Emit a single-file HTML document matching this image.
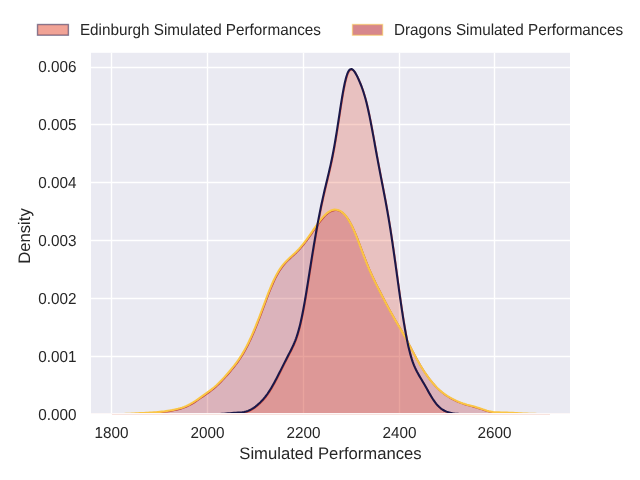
<!DOCTYPE html>
<html><head><meta charset="utf-8"><style>
html,body{margin:0;padding:0;background:#fff;}
svg{display:block;will-change:transform;}
text{font-family:"Liberation Sans",sans-serif;fill:#262626;text-rendering:geometricPrecision;}
</style></head><body>
<svg width="640" height="480" viewBox="0 0 640 480">
<defs><clipPath id="ax"><rect x="91" y="52.8" width="479" height="361.2"/></clipPath></defs>
<rect x="0" y="0" width="640" height="480" fill="#ffffff"/>
<rect x="91" y="52.8" width="479" height="361.2" fill="#eaeaf2"/>
<g stroke="#ffffff" stroke-width="1.39" fill="none"><line x1="111.5" y1="52.8" x2="111.5" y2="414" /><line x1="207.5" y1="52.8" x2="207.5" y2="414" /><line x1="303.5" y1="52.8" x2="303.5" y2="414" /><line x1="399.5" y1="52.8" x2="399.5" y2="414" /><line x1="494.5" y1="52.8" x2="494.5" y2="414" /><line x1="91" y1="67.5" x2="570" y2="67.5" /><line x1="91" y1="124.5" x2="570" y2="124.5" /><line x1="91" y1="182.5" x2="570" y2="182.5" /><line x1="91" y1="240.5" x2="570" y2="240.5" /><line x1="91" y1="298.5" x2="570" y2="298.5" /><line x1="91" y1="356.5" x2="570" y2="356.5" /></g>
<g clip-path="url(#ax)">
<path d="M112.00,414.3 L112.00,414.17 114.00,414.15 116.00,414.13 118.00,414.10 120.00,414.06 122.00,414.00 124.00,413.93 126.00,413.86 128.00,413.77 130.00,413.67 132.00,413.57 134.00,413.46 136.00,413.36 138.00,413.25 140.00,413.15 142.00,413.05 144.00,412.95 146.00,412.84 148.00,412.74 150.00,412.62 152.00,412.50 154.00,412.36 156.00,412.21 158.00,412.04 160.00,411.86 162.00,411.65 164.00,411.41 166.00,411.14 168.00,410.84 170.00,410.50 172.00,410.14 174.00,409.73 176.00,409.29 178.00,408.81 180.00,408.26 182.00,407.65 184.00,406.95 186.00,406.15 188.00,405.24 190.00,404.21 191.75,403.21 193.50,402.14 195.25,401.00 197.00,399.82 198.75,398.60 200.50,397.37 202.25,396.14 204.00,394.90 205.75,393.66 207.50,392.41 209.25,391.13 211.00,389.81 212.75,388.43 214.50,386.97 216.25,385.43 217.75,384.03 219.25,382.57 220.75,381.05 222.25,379.47 223.75,377.85 225.25,376.19 226.75,374.50 228.25,372.78 229.75,371.03 231.25,369.24 232.75,367.41 234.00,365.85 235.25,364.24 236.50,362.57 237.75,360.85 239.00,359.05 240.25,357.18 241.50,355.22 242.75,353.16 244.00,351.02 245.00,349.23 246.00,347.37 247.00,345.45 248.00,343.47 249.00,341.42 250.00,339.31 251.00,337.13 252.00,334.90 253.00,332.60 254.00,330.25 255.00,327.85 256.00,325.39 256.75,323.51 257.50,321.61 258.25,319.69 259.00,317.75 259.75,315.78 260.50,313.80 261.25,311.81 262.00,309.81 262.75,307.80 263.50,305.79 264.25,303.78 265.00,301.77 265.75,299.77 266.50,297.79 267.25,295.83 268.00,293.89 268.75,291.97 269.50,290.09 270.50,287.64 271.50,285.26 272.50,282.96 273.50,280.75 274.50,278.64 275.50,276.63 276.50,274.72 277.50,272.92 278.75,270.81 280.00,268.87 281.25,267.07 282.50,265.42 284.00,263.60 285.50,261.94 287.00,260.40 288.50,258.94 290.00,257.55 291.50,256.18 293.00,254.80 294.50,253.40 296.00,251.96 297.50,250.44 299.00,248.86 300.50,247.19 302.00,245.43 303.50,243.58 304.75,241.99 306.00,240.34 307.25,238.64 308.50,236.90 309.75,235.13 311.00,233.33 312.25,231.52 313.50,229.71 314.75,227.90 316.00,226.11 317.25,224.35 318.50,222.63 319.75,220.97 321.00,219.38 322.50,217.58 324.00,215.92 325.50,214.42 327.00,213.09 328.75,211.80 330.50,210.79 332.50,210.01 334.50,209.64 336.50,209.70 338.50,210.20 340.50,211.16 342.25,212.37 343.75,213.71 345.25,215.33 346.50,216.91 347.75,218.69 349.00,220.68 350.00,222.42 351.00,224.29 352.00,226.29 353.00,228.41 354.00,230.64 355.00,232.98 356.00,235.41 356.75,237.28 357.50,239.19 358.25,241.13 359.00,243.10 359.75,245.09 360.50,247.09 361.25,249.09 362.00,251.10 362.75,253.09 363.50,255.08 364.25,257.04 365.00,258.98 365.75,260.90 366.50,262.78 367.50,265.25 368.50,267.65 369.50,269.99 370.50,272.27 371.50,274.49 372.50,276.66 373.50,278.78 374.50,280.85 375.50,282.90 376.50,284.91 377.50,286.90 378.50,288.88 379.50,290.85 380.50,292.80 381.50,294.75 382.50,296.70 383.50,298.63 384.50,300.56 385.50,302.48 386.50,304.38 387.50,306.27 388.50,308.13 389.50,309.97 390.50,311.79 391.50,313.59 392.50,315.35 393.50,317.10 394.75,319.25 396.00,321.38 397.25,323.50 398.50,325.61 399.75,327.73 401.00,329.87 402.00,331.61 403.00,333.36 404.00,335.14 405.00,336.95 406.00,338.78 407.00,340.64 408.00,342.52 409.00,344.42 410.00,346.33 411.00,348.25 412.00,350.16 413.00,352.08 414.00,353.97 415.00,355.85 416.00,357.71 417.00,359.53 418.00,361.33 419.00,363.08 420.25,365.21 421.50,367.28 422.75,369.29 424.00,371.22 425.25,373.09 426.50,374.89 427.75,376.64 429.00,378.32 430.25,379.94 431.50,381.50 433.00,383.30 434.50,385.01 436.00,386.62 437.50,388.15 439.00,389.58 440.50,390.92 442.25,392.37 444.00,393.70 445.75,394.93 447.50,396.06 449.25,397.12 451.00,398.11 453.00,399.17 455.00,400.17 457.00,401.10 459.00,401.97 461.00,402.76 463.00,403.47 465.00,404.11 467.00,404.69 469.00,405.22 471.00,405.74 473.00,406.26 475.00,406.81 477.00,407.41 479.00,408.04 481.00,408.71 483.00,409.39 485.00,410.05 487.00,410.65 489.00,411.18 491.00,411.61 493.00,411.94 495.00,412.17 497.00,412.32 499.00,412.40 501.00,412.45 503.00,412.49 505.00,412.53 507.00,412.59 509.00,412.68 511.00,412.78 513.00,412.90 515.00,413.03 517.00,413.15 519.00,413.27 521.00,413.37 523.00,413.46 525.00,413.54 527.00,413.61 529.00,413.67 531.00,413.73 533.00,413.80 535.00,413.86 537.00,413.92 539.00,413.97 541.00,414.02 543.00,414.07 545.00,414.10 547.00,414.13 549.00,414.15 550.00,414.16 L550.00,414.3 Z" fill="#af0f19" fill-opacity="0.25" stroke="none"/>
<path d="M190.00,414.3 L190.00,414.20 192.00,414.20 194.00,414.20 196.00,414.20 198.00,414.20 200.00,414.20 202.00,414.20 204.00,414.20 206.00,414.20 208.00,414.19 210.00,414.19 212.00,414.17 214.00,414.15 216.00,414.11 218.00,414.06 220.00,413.98 222.00,413.87 224.00,413.73 226.00,413.56 228.00,413.38 230.00,413.18 232.00,413.00 234.00,412.83 236.00,412.68 238.00,412.56 240.00,412.42 242.00,412.24 244.00,411.97 246.00,411.54 248.00,410.91 250.00,410.05 252.00,408.96 253.75,407.83 255.50,406.54 257.25,405.12 259.00,403.58 260.50,402.14 262.00,400.60 263.50,398.94 265.00,397.13 266.25,395.51 267.50,393.78 268.75,391.93 270.00,389.97 271.25,387.92 272.50,385.77 273.50,384.00 274.50,382.18 275.50,380.32 276.50,378.42 277.50,376.50 278.50,374.55 279.50,372.59 280.50,370.60 281.50,368.61 282.50,366.61 283.50,364.62 284.50,362.63 285.50,360.66 286.50,358.70 287.50,356.76 288.50,354.83 289.50,352.89 290.50,350.95 291.50,348.96 292.50,346.90 293.50,344.73 294.50,342.40 295.25,340.54 296.00,338.54 296.75,336.39 297.50,334.07 298.25,331.57 299.00,328.87 299.75,325.97 300.25,323.92 300.75,321.78 301.25,319.54 301.75,317.21 302.25,314.78 302.75,312.27 303.25,309.67 303.75,306.99 304.25,304.23 304.75,301.40 305.25,298.51 305.75,295.56 306.25,292.55 306.75,289.50 307.25,286.41 307.75,283.30 308.25,280.15 308.75,277.00 309.25,273.83 309.75,270.65 310.25,267.49 310.75,264.32 311.25,261.18 311.75,258.05 312.25,254.94 312.75,251.86 313.25,248.81 313.75,245.79 314.25,242.81 314.75,239.86 315.25,236.95 315.75,234.08 316.25,231.25 316.75,228.47 317.25,225.72 317.75,223.02 318.25,220.36 318.75,217.75 319.25,215.18 319.75,212.65 320.25,210.17 320.75,207.73 321.25,205.33 321.75,202.97 322.25,200.66 322.75,198.38 323.25,196.14 323.75,193.93 324.25,191.76 324.75,189.61 325.25,187.49 325.75,185.39 326.25,183.31 326.75,181.23 327.25,179.15 327.75,177.08 328.25,174.99 328.75,172.88 329.25,170.75 329.75,168.58 330.25,166.37 330.75,164.11 331.25,161.80 331.75,159.43 332.25,156.98 332.75,154.47 333.25,151.87 333.75,149.20 334.25,146.45 334.75,143.62 335.25,140.71 335.75,137.72 336.25,134.66 336.75,131.54 337.25,128.37 337.75,125.14 338.25,121.89 338.75,118.61 339.25,115.32 339.75,112.04 340.25,108.78 340.75,105.56 341.25,102.40 341.75,99.30 342.25,96.29 342.75,93.39 343.25,90.60 343.75,87.95 344.25,85.44 344.75,83.08 345.25,80.90 345.75,78.89 346.50,76.21 347.25,73.96 348.25,71.63 349.50,69.76 351.50,68.97 353.25,70.08 354.50,71.65 355.75,73.67 356.75,75.53 357.75,77.56 358.75,79.74 359.75,82.04 360.75,84.50 361.50,86.44 362.25,88.50 363.00,90.67 363.75,92.98 364.50,95.44 365.25,98.06 366.00,100.85 366.50,102.81 367.00,104.84 367.50,106.95 368.00,109.14 368.50,111.41 369.00,113.74 369.50,116.14 370.00,118.61 370.50,121.13 371.00,123.71 371.50,126.33 372.00,129.00 372.50,131.69 373.00,134.42 373.50,137.16 374.00,139.92 374.50,142.68 375.00,145.45 375.50,148.21 376.00,150.97 376.50,153.71 377.00,156.44 377.50,159.15 378.00,161.84 378.50,164.51 379.00,167.16 379.50,169.80 380.00,172.41 380.50,175.01 381.00,177.60 381.50,180.17 382.00,182.75 382.50,185.32 383.00,187.90 383.50,190.48 384.00,193.08 384.50,195.70 385.00,198.34 385.50,201.02 386.00,203.72 386.50,206.47 387.00,209.25 387.50,212.09 388.00,214.97 388.50,217.91 389.00,220.89 389.50,223.94 390.00,227.04 390.50,230.19 391.00,233.40 391.50,236.67 392.00,239.99 392.50,243.36 393.00,246.78 393.50,250.24 394.00,253.74 394.50,257.28 395.00,260.85 395.50,264.44 396.00,268.05 396.50,271.68 397.00,275.32 397.50,278.95 398.00,282.59 398.50,286.21 399.00,289.81 399.50,293.39 400.00,296.93 400.50,300.44 401.00,303.90 401.50,307.31 402.00,310.67 402.50,313.96 403.00,317.18 403.50,320.33 404.00,323.40 404.50,326.39 405.00,329.29 405.50,332.10 406.00,334.82 406.50,337.44 407.00,339.97 407.50,342.39 408.00,344.72 408.50,346.95 409.00,349.07 409.50,351.10 410.25,353.96 411.00,356.61 411.75,359.06 412.50,361.32 413.25,363.40 414.00,365.32 415.00,367.67 416.00,369.81 417.00,371.77 418.00,373.61 419.00,375.37 420.25,377.49 421.50,379.58 422.75,381.68 424.00,383.82 425.00,385.56 426.00,387.32 427.00,389.09 428.00,390.87 429.00,392.64 430.00,394.38 431.25,396.49 432.50,398.52 433.75,400.42 435.00,402.19 436.25,403.81 437.75,405.55 439.25,407.06 441.00,408.54 442.75,409.76 444.50,410.74 446.50,411.63 448.50,412.31 450.50,412.83 452.50,413.23 454.50,413.53 456.50,413.75 458.50,413.91 460.50,414.02 462.50,414.09 464.50,414.14 466.50,414.17 468.50,414.18 470.50,414.19 472.50,414.20 474.50,414.20 476.50,414.20 478.50,414.20 480.00,414.20 L480.00,414.3 Z" fill="#e4482d" fill-opacity="0.25" stroke="none"/>
<path d="M112.00,414.17 114.00,414.15 116.00,414.13 118.00,414.10 120.00,414.06 122.00,414.00 124.00,413.93 126.00,413.86 128.00,413.77 130.00,413.67 132.00,413.57 134.00,413.46 136.00,413.36 138.00,413.25 140.00,413.15 142.00,413.05 144.00,412.95 146.00,412.84 148.00,412.74 150.00,412.62 152.00,412.50 154.00,412.36 156.00,412.21 158.00,412.04 160.00,411.86 162.00,411.65 164.00,411.41 166.00,411.14 168.00,410.84 170.00,410.50 172.00,410.14 174.00,409.73 176.00,409.29 178.00,408.81 180.00,408.26 182.00,407.65 184.00,406.95 186.00,406.15 188.00,405.24 190.00,404.21 191.75,403.21 193.50,402.14 195.25,401.00 197.00,399.82 198.75,398.60 200.50,397.37 202.25,396.14 204.00,394.90 205.75,393.66 207.50,392.41 209.25,391.13 211.00,389.81 212.75,388.43 214.50,386.97 216.25,385.43 217.75,384.03 219.25,382.57 220.75,381.05 222.25,379.47 223.75,377.85 225.25,376.19 226.75,374.50 228.25,372.78 229.75,371.03 231.25,369.24 232.75,367.41 234.00,365.85 235.25,364.24 236.50,362.57 237.75,360.85 239.00,359.05 240.25,357.18 241.50,355.22 242.75,353.16 244.00,351.02 245.00,349.23 246.00,347.37 247.00,345.45 248.00,343.47 249.00,341.42 250.00,339.31 251.00,337.13 252.00,334.90 253.00,332.60 254.00,330.25 255.00,327.85 256.00,325.39 256.75,323.51 257.50,321.61 258.25,319.69 259.00,317.75 259.75,315.78 260.50,313.80 261.25,311.81 262.00,309.81 262.75,307.80 263.50,305.79 264.25,303.78 265.00,301.77 265.75,299.77 266.50,297.79 267.25,295.83 268.00,293.89 268.75,291.97 269.50,290.09 270.50,287.64 271.50,285.26 272.50,282.96 273.50,280.75 274.50,278.64 275.50,276.63 276.50,274.72 277.50,272.92 278.75,270.81 280.00,268.87 281.25,267.07 282.50,265.42 284.00,263.60 285.50,261.94 287.00,260.40 288.50,258.94 290.00,257.55 291.50,256.18 293.00,254.80 294.50,253.40 296.00,251.96 297.50,250.44 299.00,248.86 300.50,247.19 302.00,245.43 303.50,243.58 304.75,241.99 306.00,240.34 307.25,238.64 308.50,236.90 309.75,235.13 311.00,233.33 312.25,231.52 313.50,229.71 314.75,227.90 316.00,226.11 317.25,224.35 318.50,222.63 319.75,220.97 321.00,219.38 322.50,217.58 324.00,215.92 325.50,214.42 327.00,213.09 328.75,211.80 330.50,210.79 332.50,210.01 334.50,209.64 336.50,209.70 338.50,210.20 340.50,211.16 342.25,212.37 343.75,213.71 345.25,215.33 346.50,216.91 347.75,218.69 349.00,220.68 350.00,222.42 351.00,224.29 352.00,226.29 353.00,228.41 354.00,230.64 355.00,232.98 356.00,235.41 356.75,237.28 357.50,239.19 358.25,241.13 359.00,243.10 359.75,245.09 360.50,247.09 361.25,249.09 362.00,251.10 362.75,253.09 363.50,255.08 364.25,257.04 365.00,258.98 365.75,260.90 366.50,262.78 367.50,265.25 368.50,267.65 369.50,269.99 370.50,272.27 371.50,274.49 372.50,276.66 373.50,278.78 374.50,280.85 375.50,282.90 376.50,284.91 377.50,286.90 378.50,288.88 379.50,290.85 380.50,292.80 381.50,294.75 382.50,296.70 383.50,298.63 384.50,300.56 385.50,302.48 386.50,304.38 387.50,306.27 388.50,308.13 389.50,309.97 390.50,311.79 391.50,313.59 392.50,315.35 393.50,317.10 394.75,319.25 396.00,321.38 397.25,323.50 398.50,325.61 399.75,327.73 401.00,329.87 402.00,331.61 403.00,333.36 404.00,335.14 405.00,336.95 406.00,338.78 407.00,340.64 408.00,342.52 409.00,344.42 410.00,346.33 411.00,348.25 412.00,350.16 413.00,352.08 414.00,353.97 415.00,355.85 416.00,357.71 417.00,359.53 418.00,361.33 419.00,363.08 420.25,365.21 421.50,367.28 422.75,369.29 424.00,371.22 425.25,373.09 426.50,374.89 427.75,376.64 429.00,378.32 430.25,379.94 431.50,381.50 433.00,383.30 434.50,385.01 436.00,386.62 437.50,388.15 439.00,389.58 440.50,390.92 442.25,392.37 444.00,393.70 445.75,394.93 447.50,396.06 449.25,397.12 451.00,398.11 453.00,399.17 455.00,400.17 457.00,401.10 459.00,401.97 461.00,402.76 463.00,403.47 465.00,404.11 467.00,404.69 469.00,405.22 471.00,405.74 473.00,406.26 475.00,406.81 477.00,407.41 479.00,408.04 481.00,408.71 483.00,409.39 485.00,410.05 487.00,410.65 489.00,411.18 491.00,411.61 493.00,411.94 495.00,412.17 497.00,412.32 499.00,412.40 501.00,412.45 503.00,412.49 505.00,412.53 507.00,412.59 509.00,412.68 511.00,412.78 513.00,412.90 515.00,413.03 517.00,413.15 519.00,413.27 521.00,413.37 523.00,413.46 525.00,413.54 527.00,413.61 529.00,413.67 531.00,413.73 533.00,413.80 535.00,413.86 537.00,413.92 539.00,413.97 541.00,414.02 543.00,414.07 545.00,414.10 547.00,414.13 549.00,414.15 550.00,414.16" fill="none" stroke="#af0f19" stroke-width="1.6" stroke-opacity="0.75" transform="translate(0.5,0.6)" stroke-linejoin="round"/>
<path d="M190.00,414.20 192.00,414.20 194.00,414.20 196.00,414.20 198.00,414.20 200.00,414.20 202.00,414.20 204.00,414.20 206.00,414.20 208.00,414.19 210.00,414.19 212.00,414.17 214.00,414.15 216.00,414.11 218.00,414.06 220.00,413.98 222.00,413.87 224.00,413.73 226.00,413.56 228.00,413.38 230.00,413.18 232.00,413.00 234.00,412.83 236.00,412.68 238.00,412.56 240.00,412.42 242.00,412.24 244.00,411.97 246.00,411.54 248.00,410.91 250.00,410.05 252.00,408.96 253.75,407.83 255.50,406.54 257.25,405.12 259.00,403.58 260.50,402.14 262.00,400.60 263.50,398.94 265.00,397.13 266.25,395.51 267.50,393.78 268.75,391.93 270.00,389.97 271.25,387.92 272.50,385.77 273.50,384.00 274.50,382.18 275.50,380.32 276.50,378.42 277.50,376.50 278.50,374.55 279.50,372.59 280.50,370.60 281.50,368.61 282.50,366.61 283.50,364.62 284.50,362.63 285.50,360.66 286.50,358.70 287.50,356.76 288.50,354.83 289.50,352.89 290.50,350.95 291.50,348.96 292.50,346.90 293.50,344.73 294.50,342.40 295.25,340.54 296.00,338.54 296.75,336.39 297.50,334.07 298.25,331.57 299.00,328.87 299.75,325.97 300.25,323.92 300.75,321.78 301.25,319.54 301.75,317.21 302.25,314.78 302.75,312.27 303.25,309.67 303.75,306.99 304.25,304.23 304.75,301.40 305.25,298.51 305.75,295.56 306.25,292.55 306.75,289.50 307.25,286.41 307.75,283.30 308.25,280.15 308.75,277.00 309.25,273.83 309.75,270.65 310.25,267.49 310.75,264.32 311.25,261.18 311.75,258.05 312.25,254.94 312.75,251.86 313.25,248.81 313.75,245.79 314.25,242.81 314.75,239.86 315.25,236.95 315.75,234.08 316.25,231.25 316.75,228.47 317.25,225.72 317.75,223.02 318.25,220.36 318.75,217.75 319.25,215.18 319.75,212.65 320.25,210.17 320.75,207.73 321.25,205.33 321.75,202.97 322.25,200.66 322.75,198.38 323.25,196.14 323.75,193.93 324.25,191.76 324.75,189.61 325.25,187.49 325.75,185.39 326.25,183.31 326.75,181.23 327.25,179.15 327.75,177.08 328.25,174.99 328.75,172.88 329.25,170.75 329.75,168.58 330.25,166.37 330.75,164.11 331.25,161.80 331.75,159.43 332.25,156.98 332.75,154.47 333.25,151.87 333.75,149.20 334.25,146.45 334.75,143.62 335.25,140.71 335.75,137.72 336.25,134.66 336.75,131.54 337.25,128.37 337.75,125.14 338.25,121.89 338.75,118.61 339.25,115.32 339.75,112.04 340.25,108.78 340.75,105.56 341.25,102.40 341.75,99.30 342.25,96.29 342.75,93.39 343.25,90.60 343.75,87.95 344.25,85.44 344.75,83.08 345.25,80.90 345.75,78.89 346.50,76.21 347.25,73.96 348.25,71.63 349.50,69.76 351.50,68.97 353.25,70.08 354.50,71.65 355.75,73.67 356.75,75.53 357.75,77.56 358.75,79.74 359.75,82.04 360.75,84.50 361.50,86.44 362.25,88.50 363.00,90.67 363.75,92.98 364.50,95.44 365.25,98.06 366.00,100.85 366.50,102.81 367.00,104.84 367.50,106.95 368.00,109.14 368.50,111.41 369.00,113.74 369.50,116.14 370.00,118.61 370.50,121.13 371.00,123.71 371.50,126.33 372.00,129.00 372.50,131.69 373.00,134.42 373.50,137.16 374.00,139.92 374.50,142.68 375.00,145.45 375.50,148.21 376.00,150.97 376.50,153.71 377.00,156.44 377.50,159.15 378.00,161.84 378.50,164.51 379.00,167.16 379.50,169.80 380.00,172.41 380.50,175.01 381.00,177.60 381.50,180.17 382.00,182.75 382.50,185.32 383.00,187.90 383.50,190.48 384.00,193.08 384.50,195.70 385.00,198.34 385.50,201.02 386.00,203.72 386.50,206.47 387.00,209.25 387.50,212.09 388.00,214.97 388.50,217.91 389.00,220.89 389.50,223.94 390.00,227.04 390.50,230.19 391.00,233.40 391.50,236.67 392.00,239.99 392.50,243.36 393.00,246.78 393.50,250.24 394.00,253.74 394.50,257.28 395.00,260.85 395.50,264.44 396.00,268.05 396.50,271.68 397.00,275.32 397.50,278.95 398.00,282.59 398.50,286.21 399.00,289.81 399.50,293.39 400.00,296.93 400.50,300.44 401.00,303.90 401.50,307.31 402.00,310.67 402.50,313.96 403.00,317.18 403.50,320.33 404.00,323.40 404.50,326.39 405.00,329.29 405.50,332.10 406.00,334.82 406.50,337.44 407.00,339.97 407.50,342.39 408.00,344.72 408.50,346.95 409.00,349.07 409.50,351.10 410.25,353.96 411.00,356.61 411.75,359.06 412.50,361.32 413.25,363.40 414.00,365.32 415.00,367.67 416.00,369.81 417.00,371.77 418.00,373.61 419.00,375.37 420.25,377.49 421.50,379.58 422.75,381.68 424.00,383.82 425.00,385.56 426.00,387.32 427.00,389.09 428.00,390.87 429.00,392.64 430.00,394.38 431.25,396.49 432.50,398.52 433.75,400.42 435.00,402.19 436.25,403.81 437.75,405.55 439.25,407.06 441.00,408.54 442.75,409.76 444.50,410.74 446.50,411.63 448.50,412.31 450.50,412.83 452.50,413.23 454.50,413.53 456.50,413.75 458.50,413.91 460.50,414.02 462.50,414.09 464.50,414.14 466.50,414.17 468.50,414.18 470.50,414.19 472.50,414.20 474.50,414.20 476.50,414.20 478.50,414.20 480.00,414.20" fill="none" stroke="#e4482d" stroke-width="1.6" stroke-opacity="0.75" transform="translate(0.5,0.6)" stroke-linejoin="round"/>
<path d="M112.00,414.17 114.00,414.15 116.00,414.13 118.00,414.10 120.00,414.06 122.00,414.00 124.00,413.93 126.00,413.86 128.00,413.77 130.00,413.67 132.00,413.57 134.00,413.46 136.00,413.36 138.00,413.25 140.00,413.15 142.00,413.05 144.00,412.95 146.00,412.84 148.00,412.74 150.00,412.62 152.00,412.50 154.00,412.36 156.00,412.21 158.00,412.04 160.00,411.86 162.00,411.65 164.00,411.41 166.00,411.14 168.00,410.84 170.00,410.50 172.00,410.14 174.00,409.73 176.00,409.29 178.00,408.81 180.00,408.26 182.00,407.65 184.00,406.95 186.00,406.15 188.00,405.24 190.00,404.21 191.75,403.21 193.50,402.14 195.25,401.00 197.00,399.82 198.75,398.60 200.50,397.37 202.25,396.14 204.00,394.90 205.75,393.66 207.50,392.41 209.25,391.13 211.00,389.81 212.75,388.43 214.50,386.97 216.25,385.43 217.75,384.03 219.25,382.57 220.75,381.05 222.25,379.47 223.75,377.85 225.25,376.19 226.75,374.50 228.25,372.78 229.75,371.03 231.25,369.24 232.75,367.41 234.00,365.85 235.25,364.24 236.50,362.57 237.75,360.85 239.00,359.05 240.25,357.18 241.50,355.22 242.75,353.16 244.00,351.02 245.00,349.23 246.00,347.37 247.00,345.45 248.00,343.47 249.00,341.42 250.00,339.31 251.00,337.13 252.00,334.90 253.00,332.60 254.00,330.25 255.00,327.85 256.00,325.39 256.75,323.51 257.50,321.61 258.25,319.69 259.00,317.75 259.75,315.78 260.50,313.80 261.25,311.81 262.00,309.81 262.75,307.80 263.50,305.79 264.25,303.78 265.00,301.77 265.75,299.77 266.50,297.79 267.25,295.83 268.00,293.89 268.75,291.97 269.50,290.09 270.50,287.64 271.50,285.26 272.50,282.96 273.50,280.75 274.50,278.64 275.50,276.63 276.50,274.72 277.50,272.92 278.75,270.81 280.00,268.87 281.25,267.07 282.50,265.42 284.00,263.60 285.50,261.94 287.00,260.40 288.50,258.94 290.00,257.55 291.50,256.18 293.00,254.80 294.50,253.40 296.00,251.96 297.50,250.44 299.00,248.86 300.50,247.19 302.00,245.43 303.50,243.58 304.75,241.99 306.00,240.34 307.25,238.64 308.50,236.90 309.75,235.13 311.00,233.33 312.25,231.52 313.50,229.71 314.75,227.90 316.00,226.11 317.25,224.35 318.50,222.63 319.75,220.97 321.00,219.38 322.50,217.58 324.00,215.92 325.50,214.42 327.00,213.09 328.75,211.80 330.50,210.79 332.50,210.01 334.50,209.64 336.50,209.70 338.50,210.20 340.50,211.16 342.25,212.37 343.75,213.71 345.25,215.33 346.50,216.91 347.75,218.69 349.00,220.68 350.00,222.42 351.00,224.29 352.00,226.29 353.00,228.41 354.00,230.64 355.00,232.98 356.00,235.41 356.75,237.28 357.50,239.19 358.25,241.13 359.00,243.10 359.75,245.09 360.50,247.09 361.25,249.09 362.00,251.10 362.75,253.09 363.50,255.08 364.25,257.04 365.00,258.98 365.75,260.90 366.50,262.78 367.50,265.25 368.50,267.65 369.50,269.99 370.50,272.27 371.50,274.49 372.50,276.66 373.50,278.78 374.50,280.85 375.50,282.90 376.50,284.91 377.50,286.90 378.50,288.88 379.50,290.85 380.50,292.80 381.50,294.75 382.50,296.70 383.50,298.63 384.50,300.56 385.50,302.48 386.50,304.38 387.50,306.27 388.50,308.13 389.50,309.97 390.50,311.79 391.50,313.59 392.50,315.35 393.50,317.10 394.75,319.25 396.00,321.38 397.25,323.50 398.50,325.61 399.75,327.73 401.00,329.87 402.00,331.61 403.00,333.36 404.00,335.14 405.00,336.95 406.00,338.78 407.00,340.64 408.00,342.52 409.00,344.42 410.00,346.33 411.00,348.25 412.00,350.16 413.00,352.08 414.00,353.97 415.00,355.85 416.00,357.71 417.00,359.53 418.00,361.33 419.00,363.08 420.25,365.21 421.50,367.28 422.75,369.29 424.00,371.22 425.25,373.09 426.50,374.89 427.75,376.64 429.00,378.32 430.25,379.94 431.50,381.50 433.00,383.30 434.50,385.01 436.00,386.62 437.50,388.15 439.00,389.58 440.50,390.92 442.25,392.37 444.00,393.70 445.75,394.93 447.50,396.06 449.25,397.12 451.00,398.11 453.00,399.17 455.00,400.17 457.00,401.10 459.00,401.97 461.00,402.76 463.00,403.47 465.00,404.11 467.00,404.69 469.00,405.22 471.00,405.74 473.00,406.26 475.00,406.81 477.00,407.41 479.00,408.04 481.00,408.71 483.00,409.39 485.00,410.05 487.00,410.65 489.00,411.18 491.00,411.61 493.00,411.94 495.00,412.17 497.00,412.32 499.00,412.40 501.00,412.45 503.00,412.49 505.00,412.53 507.00,412.59 509.00,412.68 511.00,412.78 513.00,412.90 515.00,413.03 517.00,413.15 519.00,413.27 521.00,413.37 523.00,413.46 525.00,413.54 527.00,413.61 529.00,413.67 531.00,413.73 533.00,413.80 535.00,413.86 537.00,413.92 539.00,413.97 541.00,414.02 543.00,414.07 545.00,414.10 547.00,414.13 549.00,414.15 550.00,414.16" fill="none" stroke="#fac545" stroke-width="2.08" stroke-linejoin="round"/>
<path d="M190.00,414.20 192.00,414.20 194.00,414.20 196.00,414.20 198.00,414.20 200.00,414.20 202.00,414.20 204.00,414.20 206.00,414.20 208.00,414.19 210.00,414.19 212.00,414.17 214.00,414.15 216.00,414.11 218.00,414.06 220.00,413.98 222.00,413.87 224.00,413.73 226.00,413.56 228.00,413.38 230.00,413.18 232.00,413.00 234.00,412.83 236.00,412.68 238.00,412.56 240.00,412.42 242.00,412.24 244.00,411.97 246.00,411.54 248.00,410.91 250.00,410.05 252.00,408.96 253.75,407.83 255.50,406.54 257.25,405.12 259.00,403.58 260.50,402.14 262.00,400.60 263.50,398.94 265.00,397.13 266.25,395.51 267.50,393.78 268.75,391.93 270.00,389.97 271.25,387.92 272.50,385.77 273.50,384.00 274.50,382.18 275.50,380.32 276.50,378.42 277.50,376.50 278.50,374.55 279.50,372.59 280.50,370.60 281.50,368.61 282.50,366.61 283.50,364.62 284.50,362.63 285.50,360.66 286.50,358.70 287.50,356.76 288.50,354.83 289.50,352.89 290.50,350.95 291.50,348.96 292.50,346.90 293.50,344.73 294.50,342.40 295.25,340.54 296.00,338.54 296.75,336.39 297.50,334.07 298.25,331.57 299.00,328.87 299.75,325.97 300.25,323.92 300.75,321.78 301.25,319.54 301.75,317.21 302.25,314.78 302.75,312.27 303.25,309.67 303.75,306.99 304.25,304.23 304.75,301.40 305.25,298.51 305.75,295.56 306.25,292.55 306.75,289.50 307.25,286.41 307.75,283.30 308.25,280.15 308.75,277.00 309.25,273.83 309.75,270.65 310.25,267.49 310.75,264.32 311.25,261.18 311.75,258.05 312.25,254.94 312.75,251.86 313.25,248.81 313.75,245.79 314.25,242.81 314.75,239.86 315.25,236.95 315.75,234.08 316.25,231.25 316.75,228.47 317.25,225.72 317.75,223.02 318.25,220.36 318.75,217.75 319.25,215.18 319.75,212.65 320.25,210.17 320.75,207.73 321.25,205.33 321.75,202.97 322.25,200.66 322.75,198.38 323.25,196.14 323.75,193.93 324.25,191.76 324.75,189.61 325.25,187.49 325.75,185.39 326.25,183.31 326.75,181.23 327.25,179.15 327.75,177.08 328.25,174.99 328.75,172.88 329.25,170.75 329.75,168.58 330.25,166.37 330.75,164.11 331.25,161.80 331.75,159.43 332.25,156.98 332.75,154.47 333.25,151.87 333.75,149.20 334.25,146.45 334.75,143.62 335.25,140.71 335.75,137.72 336.25,134.66 336.75,131.54 337.25,128.37 337.75,125.14 338.25,121.89 338.75,118.61 339.25,115.32 339.75,112.04 340.25,108.78 340.75,105.56 341.25,102.40 341.75,99.30 342.25,96.29 342.75,93.39 343.25,90.60 343.75,87.95 344.25,85.44 344.75,83.08 345.25,80.90 345.75,78.89 346.50,76.21 347.25,73.96 348.25,71.63 349.50,69.76 351.50,68.97 353.25,70.08 354.50,71.65 355.75,73.67 356.75,75.53 357.75,77.56 358.75,79.74 359.75,82.04 360.75,84.50 361.50,86.44 362.25,88.50 363.00,90.67 363.75,92.98 364.50,95.44 365.25,98.06 366.00,100.85 366.50,102.81 367.00,104.84 367.50,106.95 368.00,109.14 368.50,111.41 369.00,113.74 369.50,116.14 370.00,118.61 370.50,121.13 371.00,123.71 371.50,126.33 372.00,129.00 372.50,131.69 373.00,134.42 373.50,137.16 374.00,139.92 374.50,142.68 375.00,145.45 375.50,148.21 376.00,150.97 376.50,153.71 377.00,156.44 377.50,159.15 378.00,161.84 378.50,164.51 379.00,167.16 379.50,169.80 380.00,172.41 380.50,175.01 381.00,177.60 381.50,180.17 382.00,182.75 382.50,185.32 383.00,187.90 383.50,190.48 384.00,193.08 384.50,195.70 385.00,198.34 385.50,201.02 386.00,203.72 386.50,206.47 387.00,209.25 387.50,212.09 388.00,214.97 388.50,217.91 389.00,220.89 389.50,223.94 390.00,227.04 390.50,230.19 391.00,233.40 391.50,236.67 392.00,239.99 392.50,243.36 393.00,246.78 393.50,250.24 394.00,253.74 394.50,257.28 395.00,260.85 395.50,264.44 396.00,268.05 396.50,271.68 397.00,275.32 397.50,278.95 398.00,282.59 398.50,286.21 399.00,289.81 399.50,293.39 400.00,296.93 400.50,300.44 401.00,303.90 401.50,307.31 402.00,310.67 402.50,313.96 403.00,317.18 403.50,320.33 404.00,323.40 404.50,326.39 405.00,329.29 405.50,332.10 406.00,334.82 406.50,337.44 407.00,339.97 407.50,342.39 408.00,344.72 408.50,346.95 409.00,349.07 409.50,351.10 410.25,353.96 411.00,356.61 411.75,359.06 412.50,361.32 413.25,363.40 414.00,365.32 415.00,367.67 416.00,369.81 417.00,371.77 418.00,373.61 419.00,375.37 420.25,377.49 421.50,379.58 422.75,381.68 424.00,383.82 425.00,385.56 426.00,387.32 427.00,389.09 428.00,390.87 429.00,392.64 430.00,394.38 431.25,396.49 432.50,398.52 433.75,400.42 435.00,402.19 436.25,403.81 437.75,405.55 439.25,407.06 441.00,408.54 442.75,409.76 444.50,410.74 446.50,411.63 448.50,412.31 450.50,412.83 452.50,413.23 454.50,413.53 456.50,413.75 458.50,413.91 460.50,414.02 462.50,414.09 464.50,414.14 466.50,414.17 468.50,414.18 470.50,414.19 472.50,414.20 474.50,414.20 476.50,414.20 478.50,414.20 480.00,414.20" fill="none" stroke="#1b1849" stroke-width="2.08" stroke-linejoin="round"/>
</g>
<rect x="91" y="413" width="479" height="1" fill="#fdf8f8"/>
<rect x="112" y="414" width="438" height="1" fill="#f8e3de"/>
<g font-size="15.28px"><text transform="translate(111.5,437.9) scale(1,1.04)" text-anchor="middle">1800</text><text transform="translate(207.5,437.9) scale(1,1.04)" text-anchor="middle">2000</text><text transform="translate(303.5,437.9) scale(1,1.04)" text-anchor="middle">2200</text><text transform="translate(399.5,437.9) scale(1,1.04)" text-anchor="middle">2400</text><text transform="translate(494.5,437.9) scale(1,1.04)" text-anchor="middle">2600</text><text transform="translate(76.5,71.8) scale(1,1.04)" text-anchor="end">0.006</text><text transform="translate(76.5,129.8) scale(1,1.04)" text-anchor="end">0.005</text><text transform="translate(76.5,187.8) scale(1,1.04)" text-anchor="end">0.004</text><text transform="translate(76.5,245.8) scale(1,1.04)" text-anchor="end">0.003</text><text transform="translate(76.5,303.8) scale(1,1.04)" text-anchor="end">0.002</text><text transform="translate(76.5,361.8) scale(1,1.04)" text-anchor="end">0.001</text><text transform="translate(76.5,419.8) scale(1,1.04)" text-anchor="end">0.000</text></g>
<text x="330.5" y="459" text-anchor="middle" font-size="16.67px">Simulated Performances</text>
<text transform="translate(30,236) rotate(-90)" text-anchor="middle" font-size="16.67px">Density</text>
<rect x="37.5" y="24.5" width="30.9" height="10.7" fill="#e4482d" fill-opacity="0.5" stroke="#1b1849" stroke-opacity="0.5" stroke-width="1.4"/>
<text transform="translate(79.9,35) scale(1,1.04)" font-size="15.28px">Edinburgh Simulated Performances</text>
<rect x="352.5" y="24.5" width="30.1" height="10.7" fill="#af0f19" fill-opacity="0.5" stroke="#fac545" stroke-opacity="0.5" stroke-width="1.4"/>
<text transform="translate(394,35) scale(1,1.04)" font-size="15.28px">Dragons Simulated Performances</text>
</svg>
</body></html>
